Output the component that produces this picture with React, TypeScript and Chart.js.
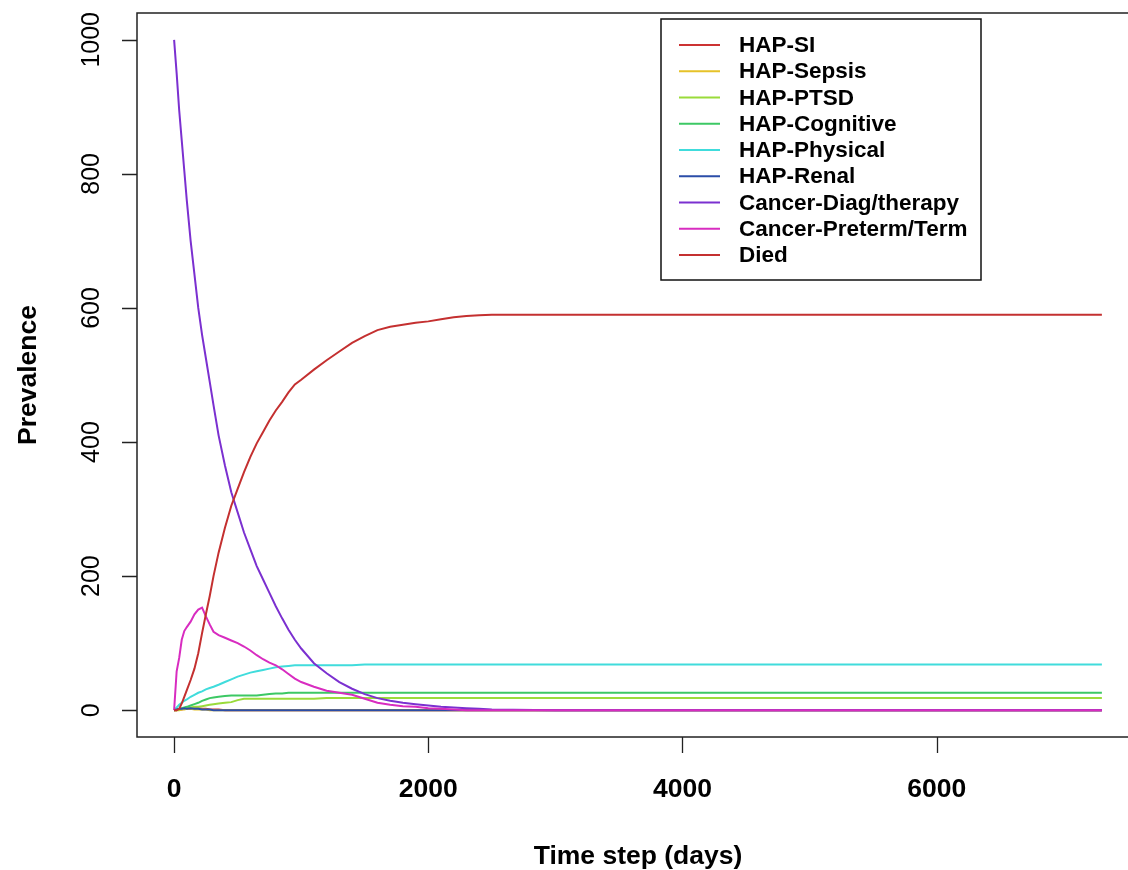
import React, { useEffect, useRef } from "react";
import { Chart, registerables } from "chart.js";

Chart.register(...registerables);

// ---- data ----
const days = [
  0, 20, 40, 60, 80, 100, 130, 160, 190, 220, 250, 280, 310, 350, 400, 450, 500, 550, 600, 650,
  700, 750, 800, 850, 900, 950, 1000, 1100, 1200, 1300, 1400, 1500, 1600, 1700, 1800, 1900, 2000,
  2100, 2200, 2300, 2400, 2500, 3000, 4000, 5000, 6000, 7000, 7300,
];

const hapSI = [
  0, 0, 1, 1, 2, 2, 2, 3, 3, 2, 2, 1, 1, 1, 0, 0, 0, 0, 0, 0,
  0, 0, 0, 0, 0, 0, 0, 0, 0, 0, 0, 0, 0, 0, 0, 0, 0,
  0, 0, 0, 0, 0, 0, 0, 0, 0, 0, 0,
];
const hapSepsis = [
  0, 0, 0, 1, 1, 2, 2, 1, 1, 1, 1, 0, 0, 0, 0, 0, 0, 0, 0, 0,
  0, 0, 0, 0, 0, 0, 0, 0, 0, 0, 0, 0, 0, 0, 0, 0, 0,
  0, 0, 0, 0, 0, 0, 0, 0, 0, 0, 0,
];
const hapPTSD = [
  0, 0, 1, 2, 2, 3, 4, 5, 5, 6, 7, 8, 9, 10, 11, 12, 15, 17, 17, 17,
  17, 17, 17, 17, 17, 17, 17, 17, 18, 18, 18, 18, 18, 18, 18, 18, 18,
  18, 18, 18, 18, 18, 18, 18, 18, 18, 18, 18,
];
const hapCognitive = [
  0, 1, 2, 3, 4, 5, 7, 9, 11, 14, 16, 18, 19, 20, 21, 22, 22, 22, 22, 22,
  23, 24, 25, 25, 26, 26, 26, 26, 26, 26, 26, 26, 26, 26, 26, 26, 26,
  26, 26, 26, 26, 26, 26, 26, 26, 26, 26, 26,
];
const hapPhysical = [
  0, 4, 8, 11, 14, 16, 20, 23, 26, 28, 31, 33, 35, 38, 42, 46, 50, 53, 56, 58,
  60, 62, 64, 65, 66, 67, 67, 67, 67, 67, 67, 68, 68, 68, 68, 68, 68,
  68, 68, 68, 68, 68, 68, 68, 68, 68, 68, 68,
];
const hapRenal = [
  0, 1, 2, 2, 3, 2, 3, 2, 2, 1, 1, 1, 0, 0, 0, 0, 0, 0, 0, 0,
  0, 0, 0, 0, 0, 0, 0, 0, 0, 0, 0, 0, 0, 0, 0, 0, 0,
  0, 0, 0, 0, 0, 0, 0, 0, 0, 0, 0,
];
const cancerDiag = [
  1000, 950, 895, 850, 805, 760, 700, 650, 600, 560, 525, 490, 455, 410, 365, 325, 295, 265, 240, 215,
  195, 175, 155, 137, 120, 105, 92, 70, 55, 42, 32, 24, 18, 14, 11, 9, 7,
  5, 4, 3, 2, 1, 0, 0, 0, 0, 0, 0,
];
const cancerPreterm = [
  0, 58, 78, 105, 118, 124, 132, 143, 150, 153, 140, 128, 117, 112, 108, 104, 100, 95, 89, 82,
  76, 71, 67, 61, 54, 47, 42, 35, 29, 26, 23, 17, 11, 8, 6, 5, 3,
  2, 1, 0, 0, 0, 0, 0, 0, 0, 0, 0,
];
const died = [
  0, 0, 2, 10, 20, 30, 45, 62, 85, 115, 143, 170, 200, 235, 272, 305, 330, 355, 378, 398,
  415, 432, 447, 460, 474, 486, 493, 508, 522, 535, 548, 558, 567, 572, 575, 578, 580,
  583, 586, 588, 589, 590, 590, 590, 590, 590, 590, 590,
];

const seriesNames = [
  "HAP-SI",
  "HAP-Sepsis",
  "HAP-PTSD",
  "HAP-Cognitive",
  "HAP-Physical",
  "HAP-Renal",
  "Cancer-Diag/therapy",
  "Cancer-Preterm/Term",
  "Died",
];
const seriesValues = [
  hapSI,
  hapSepsis,
  hapPTSD,
  hapCognitive,
  hapPhysical,
  hapRenal,
  cancerDiag,
  cancerPreterm,
  died,
];
const seriesColors = [
  "#CC3333",
  "#E6C229",
  "#9ADB3A",
  "#3CC864",
  "#40DCDC",
  "#2B4DA8",
  "#7B30D0",
  "#D82CC0",
  "#C43030",
];

const xTicks = [0, 2000, 4000, 6000];
const yTicks = [0, 200, 400, 600, 800, 1000];
const xTitle = "Time step (days)";
const yTitle = "Prevalence";

const FONT = '"Liberation Sans", Arial, sans-serif';

const rPlotPlugin = {
  id: "rPlot",
  afterDatasetsDraw(chart: any) {
    const ctx = chart.ctx as CanvasRenderingContext2D;
    const area = chart.chartArea;
    const xs = chart.scales.x;
    const ys = chart.scales.y;
    ctx.save();

    // plot frame
    ctx.strokeStyle = "#222";
    ctx.lineWidth = 1.5;
    ctx.strokeRect(area.left, area.top, area.right - area.left, area.bottom - area.top);

    // x axis
    ctx.lineWidth = 1.3;
    ctx.beginPath();
    for (const t of xTicks) {
      const px = Math.round(xs.getPixelForValue(t)) + 0.5;
      ctx.moveTo(px, area.bottom);
      ctx.lineTo(px, area.bottom + 16);
    }
    ctx.stroke();
    ctx.fillStyle = "#000";
    ctx.font = `bold 26.5px ${FONT}`;
    ctx.textAlign = "center";
    ctx.textBaseline = "alphabetic";
    for (const t of xTicks) {
      ctx.fillText(String(t), xs.getPixelForValue(t), area.bottom + 60);
    }
    ctx.fillText(xTitle, (area.left + area.right) / 2, area.bottom + 127);

    // y axis
    ctx.beginPath();
    for (const t of yTicks) {
      const py = Math.round(ys.getPixelForValue(t)) + 0.5;
      ctx.moveTo(area.left, py);
      ctx.lineTo(area.left - 15, py);
    }
    ctx.stroke();
    ctx.font = `25px ${FONT}`;
    for (const t of yTicks) {
      ctx.save();
      ctx.translate(area.left - 38, ys.getPixelForValue(t));
      ctx.rotate(-Math.PI / 2);
      ctx.fillText(String(t), 0, 0);
      ctx.restore();
    }
    ctx.font = `bold 26.5px ${FONT}`;
    ctx.save();
    ctx.translate(36, (area.top + area.bottom) / 2);
    ctx.rotate(-Math.PI / 2);
    ctx.fillText(yTitle, 0, 0);
    ctx.restore();

    // legend
    const lx = 661, ly = 19, lw = 320, lh = 261;
    ctx.fillStyle = "#fff";
    ctx.fillRect(lx, ly, lw, lh);
    ctx.strokeStyle = "#111";
    ctx.lineWidth = 1.5;
    ctx.strokeRect(lx, ly, lw, lh);
    ctx.font = `bold 22.5px ${FONT}`;
    ctx.textAlign = "left";
    ctx.textBaseline = "middle";
    seriesNames.forEach((name, i) => {
      const y = 45 + i * 26.25;
      ctx.strokeStyle = seriesColors[i];
      ctx.lineWidth = 2;
      ctx.beginPath();
      ctx.moveTo(679, y);
      ctx.lineTo(720, y);
      ctx.stroke();
      ctx.fillStyle = "#000";
      ctx.fillText(name, 739, y + 1);
    });

    ctx.restore();
  },
};

export default function App() {
  const canvasRef = useRef<HTMLCanvasElement | null>(null);

  useEffect(() => {
    const canvas = canvasRef.current;
    if (!canvas) return;
    // R draws later series on top; Chart.js draws dataset 0 last (on top), so reverse.
    const datasets = seriesNames
      .map((name, i) => ({
        label: name,
        data: days.map((d, j) => ({ x: d, y: seriesValues[i][j] })),
        borderColor: seriesColors[i],
        backgroundColor: seriesColors[i],
        borderWidth: 2,
        pointRadius: 0,
        tension: 0,
        fill: false,
      }))
      .reverse();

    const chart = new Chart(canvas, {
      type: "line",
      data: { datasets },
      options: {
        responsive: false,
        animation: false,
        events: [],
        layout: { padding: { left: 137, top: 13, right: 11, bottom: 133 } },
        scales: {
          x: { type: "linear", min: -292, max: 7592, display: false },
          y: { type: "linear", min: -40, max: 1040, display: false },
        },
        plugins: {
          legend: { display: false },
          tooltip: { enabled: false },
        },
      },
      plugins: [rPlotPlugin],
    });
    return () => chart.destroy();
  }, []);

  return (
    <div
      style={{
        position: "absolute",
        left: 0,
        top: 0,
        width: 1128,
        height: 870,
        overflow: "hidden",
        background: "#fff",
      }}
    >
      <canvas ref={canvasRef} width={1150} height={870} style={{ width: 1150, height: 870, display: "block" }} />
    </div>
  );
}
